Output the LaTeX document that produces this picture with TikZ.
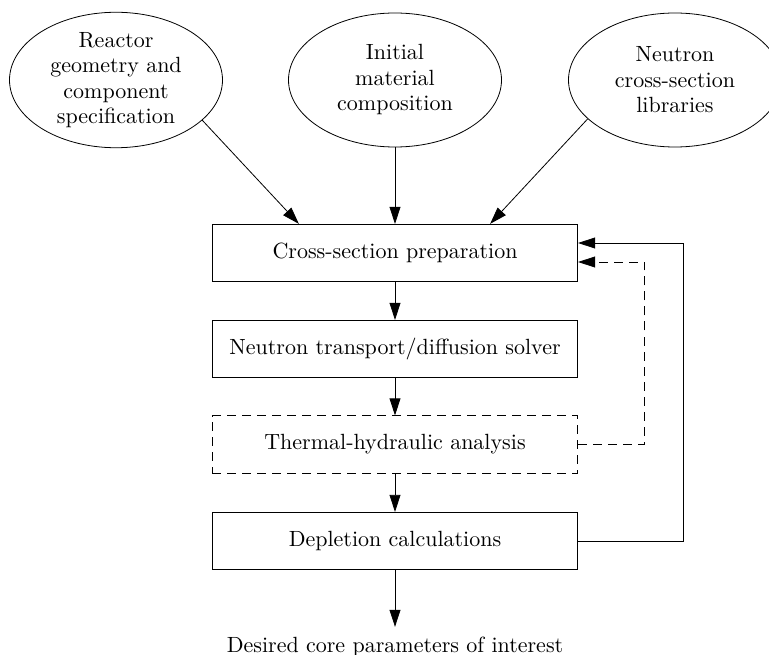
\documentclass[tikz,border=0pt]{standalone}
\usepackage{fontspec}
\setmainfont{lmroman10-regular.otf}
\usetikzlibrary{shapes.geometric,arrows.meta}
\begin{document}
\begin{tikzpicture}[x=1pt,y=-1pt,
  every node/.style={font=\fontsize{22}{25.5}\selectfont},
  source/.style={ellipse,draw,line width=0.8pt,minimum width=213pt,minimum height=134pt,inner sep=0pt,align=center},
  stage/.style={rectangle,draw,line width=0.8pt,minimum width=365.5pt,minimum height=57.5pt,inner sep=0pt},
  link/.style={line width=0.8pt,-{Triangle[length=17pt,width=11pt]}},
  loose/.style={dash pattern=on 9pt off 6pt},
]
\clip (0,0) rectangle (769,655);

% inputs
\node[source] (geo) at (116,80) {Reactor\\geometry and\\component\\specification};
\node[source] (mat) at (395,80) {Initial\\material\\composition};
\node[source] (lib) at (675,80) {Neutron\\cross-section\\libraries};

% calculation chain
\node[stage] (xs)   at (395,253)   {Cross-section preparation};
\node[stage] (flux) at (395,349)   {Neutron transport/diffusion solver};
\node[stage,loose] (th) at (395,444.5) {Thermal-hydraulic analysis};
\node[stage] (dep)  at (395,541)   {Depletion calculations};
\node[anchor=base,text height=14pt,text depth=4pt,inner xsep=0pt,inner ysep=11pt] (out) at (395,652) {Desired core parameters of interest};

% connectors
\draw[link] (geo.-25) -- ([xshift=87pt]xs.north west);
\draw[link] (mat.south) -- (xs.north);
\draw[link] (lib.-156) -- ([xshift=-88pt]xs.north east);
\draw[link] (xs) -- (flux);
\draw[link] (flux) -- (th);
\draw[link] (th) -- (dep);
\draw[link] (dep) -- (out.north);

% feedback loops
\draw[link] (dep.east) -- ++(105,0) |- ([yshift=10pt]xs.east);
\draw[link,loose] (th.east) -- ++(66,0) |- ([yshift=-9pt]xs.east);
\end{tikzpicture}
\end{document}
